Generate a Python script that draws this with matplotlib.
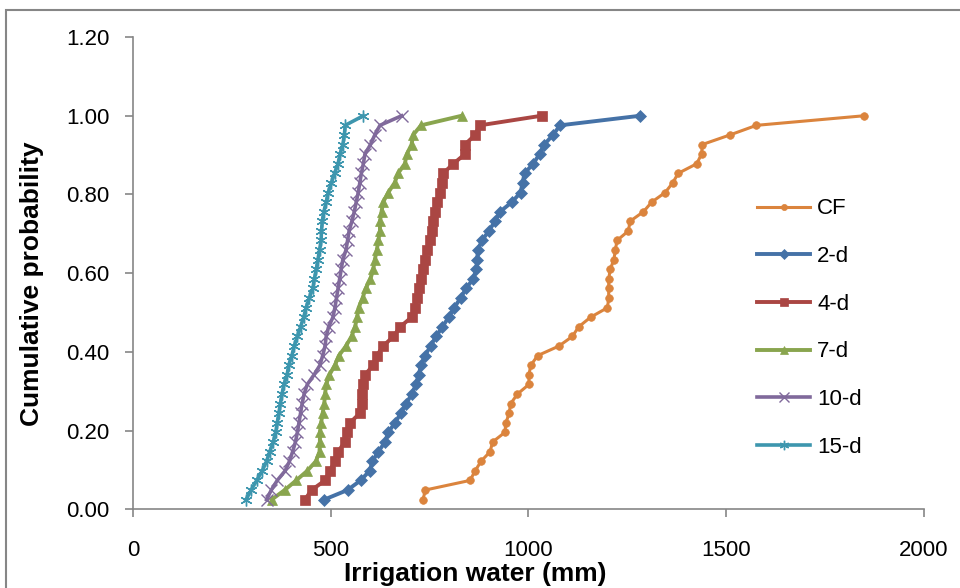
import matplotlib
matplotlib.use("Agg")
import matplotlib.pyplot as plt
from matplotlib.patches import Rectangle

# cumulative probability, 41 ranked values per series (i / 41)
n_pts = 41
prob = [i / n_pts for i in range(1, n_pts + 1)]

cf = [733, 739, 852, 865, 880, 903, 909, 940, 943, 951, 955, 972, 1001, 1001,
      1006, 1023, 1077, 1111, 1127, 1157, 1200, 1203, 1203, 1203, 1207, 1216,
      1220, 1224, 1253, 1257, 1291, 1312, 1346, 1365, 1379, 1426, 1438, 1440,
      1510, 1577, 1850]
d2 = [483, 542, 575, 598, 605, 620, 637, 645, 662, 677, 690, 705, 715, 722,
      728, 738, 752, 766, 782, 798, 812, 828, 842, 860, 868, 870, 872, 882,
      900, 915, 928, 958, 980, 985, 990, 1012, 1028, 1040, 1062, 1080, 1283]
d4 = [434, 451, 485, 497, 510, 518, 535, 540, 548, 573, 578, 578, 582, 586,
      607, 616, 632, 658, 675, 704, 713, 718, 722, 728, 734, 738, 742, 751,
      755, 759, 763, 768, 776, 780, 784, 810, 839, 839, 865, 877, 1033]
d7 = [350, 383, 412, 440, 462, 471, 472, 472, 475, 479, 483, 485, 488, 496,
      510, 520, 538, 552, 561, 566, 570, 580, 588, 600, 607, 611, 616, 620,
      624, 624, 628, 632, 645, 661, 670, 687, 692, 704, 708, 728, 831]
d10 = [337, 349, 364, 384, 395, 403, 410, 415, 419, 423, 427, 432, 440, 457,
       472, 479, 485, 488, 494, 505, 510, 514, 518, 522, 526, 530, 538, 542,
       546, 553, 559, 564, 569, 573, 577, 582, 586, 600, 611, 624, 679]
d15 = [285, 298, 312, 326, 337, 345, 354, 360, 364, 368, 372, 376, 381, 389,
       393, 401, 407, 415, 423, 431, 437, 445, 454, 458, 463, 467, 471, 475,
       476, 478, 482, 488, 493, 501, 509, 518, 523, 530, 534, 536, 582]

labels = ["CF", "2-d", "4-d", "7-d", "10-d", "15-d"]
series = [cf, d2, d4, d7, d10, d15]
colors = ["#DB843D", "#4572A7", "#AA4643", "#89A54E", "#80699B", "#3D96AE"]
markers = ["o", "D", "s", "^", "x", (6, 2, 0)]
msizes = [5.5, 6, 7.5, 7.5, 8.5, 8.5]
lwidths = [2.2, 2.8, 2.8, 2.8, 2.6, 2.6]

plt.rcParams["font.family"] = ["Liberation Sans", "DejaVu Sans"]

fig = plt.figure(figsize=(9.6, 5.88), dpi=100)
ax = fig.add_axes([0.139, 0.134, 0.823, 0.803])

for x, lab, c, m, ms, lw in zip(series, labels, colors, markers, msizes, lwidths):
    mew = 1.0 if m in ("x", (6, 2, 0)) else 0.5
    ax.plot(x, prob, color=c, marker=m, markersize=ms, linewidth=lw,
            markeredgecolor=c, markerfacecolor=c, markeredgewidth=mew, label=lab)

ax.set_xlim(0, 2000)
ax.set_ylim(0, 1.2)
ax.set_xticks([0, 500, 1000, 1500, 2000])
ax.set_yticks([0, 0.2, 0.4, 0.6, 0.8, 1.0, 1.2])
ax.set_yticklabels([f"{v:.2f}" for v in ax.get_yticks()])

for s in ["top", "right"]:
    ax.spines[s].set_visible(False)
for s in ["left", "bottom"]:
    ax.spines[s].set_color("#868686")
    ax.spines[s].set_linewidth(1.2)
ax.tick_params(axis="both", colors="#868686", labelcolor="black", labelsize=16,
               length=6, width=1.2, direction="out")
ax.tick_params(axis="x", pad=16)
ax.tick_params(axis="y", pad=11)

fig.text(475 / 960, 1 - 574 / 588, "Irrigation water (mm)", fontsize=19,
         fontweight="bold", ha="center", va="center")
fig.text(32 / 960, 1 - 284 / 588, "Cumulative probability", fontsize=19,
         fontweight="bold", ha="center", va="center", rotation=90)

ax.legend(loc="center left", bbox_to_anchor=(746 / 960, 1 - 328 / 588),
          bbox_transform=fig.transFigure, frameon=False, borderpad=0,
          fontsize=16, handlelength=2.4, labelspacing=1.2, handletextpad=0.3,
          markerscale=0.8)

# outer chart border
fig.patches.append(Rectangle((6 / 960, -0.1), 1.2, 1.1 - 10 / 588, transform=fig.transFigure,
                             fill=False, edgecolor="#868686", linewidth=1.5))

fig.savefig("out.png", dpi=100)
